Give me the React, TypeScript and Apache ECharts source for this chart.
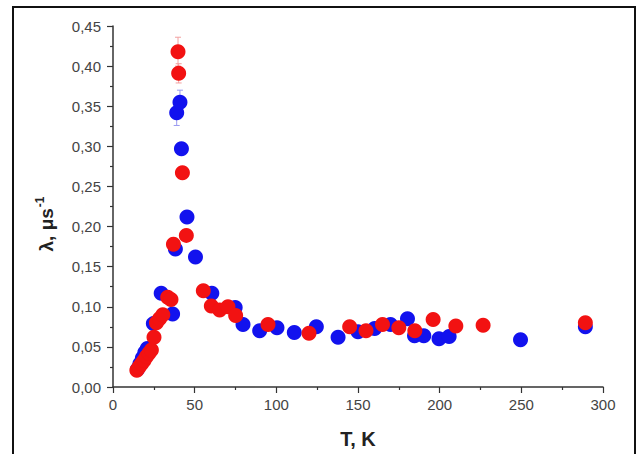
import React, { useEffect, useRef } from "react";
import * as echarts from "echarts";

// Sample 1 (blue)
const blueT = [15, 16.5, 18, 19.5, 21, 24.7, 29.5, 36.5, 38.2, 39, 41, 41.9, 45.3, 50.5, 60.5, 74.8, 79.6, 89.8, 100.4, 111, 124.5, 137.8, 150, 160.2, 169.9, 180.3, 184.6, 190.3, 199.6, 205.8, 249.5, 289.2];
const blueV = [0.022, 0.029, 0.036, 0.043, 0.048, 0.079, 0.117, 0.091, 0.172, 0.342, 0.355, 0.297, 0.212, 0.162, 0.117, 0.099, 0.078, 0.070, 0.074, 0.068, 0.075, 0.062, 0.069, 0.073, 0.078, 0.085, 0.064, 0.064, 0.060, 0.063, 0.059, 0.075];
// Sample 2 (red)
const redT = [14.6, 16, 17.5, 19, 20.5, 22, 23.5, 25.1, 26.6, 28.5, 30.5, 33.5, 35.5, 37, 39.8, 40.2, 42.5, 44.9, 55.3, 60.2, 65.3, 70.4, 75.1, 94.9, 120, 144.9, 154.9, 165, 175, 184.8, 196, 209.9, 226.6, 289.2];
const redV = [0.021, 0.025, 0.029, 0.033, 0.038, 0.042, 0.046, 0.062, 0.080, 0.085, 0.090, 0.112, 0.109, 0.178, 0.418, 0.391, 0.267, 0.189, 0.120, 0.101, 0.096, 0.100, 0.089, 0.078, 0.067, 0.075, 0.070, 0.078, 0.074, 0.070, 0.084, 0.076, 0.077, 0.080];
// Error bars (T, value, error)
const blueErrT = [38.2, 39, 41];
const blueErrV = [0.172, 0.342, 0.355];
const blueErrE = [0.008, 0.016, 0.015];
const redErrT = [37, 39.8, 40.2];
const redErrV = [0.178, 0.418, 0.391];
const redErrE = [0.008, 0.018, 0.012];

const xTicks = { min: 0, max: 300, interval: 50 };
const yTicks = { min: 0, max: 0.45, interval: 0.05 };

function errSeries(ts: number[], vs: number[], es: number[], color: string) {
  return {
    type: "custom",
    z: 1,
    silent: true,
    data: ts.map((t, i) => [t, vs[i] - es[i], vs[i] + es[i]]),
    renderItem: (params: any, api: any) => {
      const lo = api.coord([api.value(0), api.value(1)]);
      const hi = api.coord([api.value(0), api.value(2)]);
      const w = 3;
      return {
        type: "group",
        children: [
          { type: "line", shape: { x1: lo[0], y1: lo[1], x2: hi[0], y2: hi[1] }, style: { stroke: color, lineWidth: 1 } },
          { type: "line", shape: { x1: hi[0] - w, y1: hi[1], x2: hi[0] + w, y2: hi[1] }, style: { stroke: color, lineWidth: 1 } },
          { type: "line", shape: { x1: lo[0] - w, y1: lo[1], x2: lo[0] + w, y2: lo[1] }, style: { stroke: color, lineWidth: 1 } },
        ],
      };
    },
  };
}

export default function App() {
  const ref = useRef<HTMLDivElement>(null);
  useEffect(() => {
    if (!ref.current) return;
    const chart = echarts.init(ref.current, null, { renderer: "svg" });
    const font = "Liberation Sans, Arial, sans-serif";
    chart.setOption({
      animation: false,
      backgroundColor: "#ffffff",
      grid: { left: 113, right: 36, top: 26, bottom: 65, containLabel: false },
      xAxis: {
        type: "value",
        ...xTicks,
        name: "T, K",
        nameLocation: "middle",
        nameGap: 42,
        nameTextStyle: { fontFamily: font, fontSize: 20, fontWeight: "bold", color: "#222" },
        axisLine: { show: true, onZero: false, lineStyle: { color: "#333", width: 1.5 } },
        axisTick: { show: true, inside: false, length: 6, lineStyle: { color: "#333", width: 1.2 } },
        minorTick: { show: true, splitNumber: 2, length: 3, lineStyle: { color: "#333", width: 1.2 } },
        axisLabel: { fontFamily: font, fontSize: 15, color: "#444", margin: 10 },
        splitLine: { show: false },
      },
      yAxis: {
        type: "value",
        ...yTicks,
        axisLine: { show: true, onZero: false, lineStyle: { color: "#333", width: 1.5 } },
        axisTick: { show: true, inside: false, length: 6, lineStyle: { color: "#333", width: 1.2 } },
        minorTick: { show: true, splitNumber: 2, length: 3, lineStyle: { color: "#333", width: 1.2 } },
        axisLabel: {
          fontFamily: font,
          fontSize: 15,
          color: "#444",
          margin: 12,
          formatter: (v: number) => v.toFixed(2).replace(".", ","),
        },
        splitLine: { show: false },
      },
      series: [
        errSeries(blueErrT, blueErrV, blueErrE, "#9a9af0"),
        errSeries(redErrT, redErrV, redErrE, "#f2a0a0"),
        {
          type: "scatter",
          z: 2,
          symbol: "circle",
          symbolSize: 15,
          itemStyle: { color: "#1212ee", opacity: 1 },
          data: blueT.map((t, i) => [t, blueV[i]]),
        },
        {
          type: "scatter",
          z: 3,
          symbol: "circle",
          symbolSize: 15,
          itemStyle: { color: "#f21212", opacity: 1 },
          data: redT.map((t, i) => [t, redV[i]]),
        },
      ],
      graphic: [
        {
          type: "text",
          x: 46,
          y: 224,
          rotation: Math.PI / 2,
          silent: true,
          style: {
            text: "{a|λ, μs}{s|-1}",
            align: "center",
            verticalAlign: "middle",
            rich: {
              a: { fontFamily: font, fontSize: 19, fontWeight: "bold", fill: "#222", lineHeight: 24 },
              s: { fontFamily: font, fontSize: 12, fontWeight: "bold", fill: "#222", verticalAlign: "top", lineHeight: 24, padding: [0, 0, 8, 1] },
            },
          },
        },
        {
          type: "rect",
          shape: { x: 13, y: 7, width: 622, height: 480 },
          style: { fill: "none", stroke: "#111", lineWidth: 2 },
          silent: true,
          z: 10,
        },
      ],
    });
    return () => chart.dispose();
  }, []);
  return (
    <div
      ref={ref}
      style={{ position: "fixed", left: 0, top: 0, width: 639, height: 454 }}
    />
  );
}
